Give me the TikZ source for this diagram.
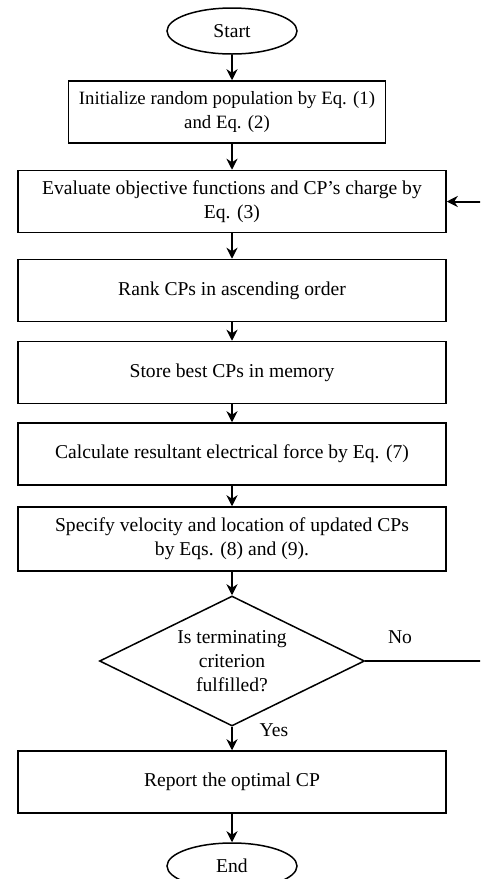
\documentclass[tikz,border=0pt]{standalone}
\usepackage{fontspec}
\setmainfont{Liberation Serif}
\usetikzlibrary{shapes.geometric,arrows.meta}

\tikzset{
  proc/.style={draw, line width=1.5pt, minimum width=428pt, minimum height=62pt,
    align=center, inner sep=0pt},
  term/.style={draw, ellipse, line width=1.5pt, minimum width=130pt,
    minimum height=46pt, inner sep=0pt},
  decide/.style={draw, diamond, aspect=2, line width=1.5pt, minimum width=265pt,
    minimum height=130pt, align=center, inner sep=-4pt},
  flow/.style={line width=2pt, -{Stealth[length=11pt,width=11pt,inset=3.5pt]}},
}

\begin{document}
\begin{tikzpicture}[x=1pt,y=-1pt,font=\fontsize{19.6}{24}\selectfont]
      \path[use as bounding box,clip] (0,0) rectangle (480,879);
      % steps of the search, top to bottom
      \node[term] (start) at (232,31) {Start};
      \node[proc, minimum width=317pt, font=\fontsize{18.8}{24}\selectfont] (init) at (227,112) {Initialize random population by Eq. (1)\\ and Eq. (2)};
      \node[proc] (eval) at (232,201.5) {Evaluate objective functions and CP's charge by\\ Eq. (3)};
      \node[proc] (rank) at (232,290.5) {Rank CPs in ascending order};
      \node[proc] (store) at (232,372.5) {Store best CPs in memory};
      \node[proc] (force) at (232,454) {Calculate resultant electrical force by Eq. (7)};
      \node[proc, minimum height=64pt] (move) at (232,539) {Specify velocity and location of updated CPs\\ by Eqs. (8) and (9).};
      \node[decide] (check) at (232,661) {Is terminating\\ criterion\\ fulfilled?};
      \node[proc] (report) at (232,782) {Report the optimal CP};
      \node[term] (stop) at (232,866) {End};
      \node (no) at (400,637) {No};
      \node (yes) at (274,730) {Yes};
      \coordinate (back) at (494,661);

      % connectors
      \draw[flow] (start.south) -- (start.south |- init.north);
      \draw[flow] (eval.north |- init.south) -- (eval.north);
      \draw[flow] (eval) -- (rank);
      \draw[flow] (rank) -- (store);
      \draw[flow] (store) -- (force);
      \draw[flow] (force) -- (move);
      \draw[flow] (move) -- (check);
      \draw[flow] (check.south) -- (check.south |- report.north);
      \draw[flow] (report) -- (stop);
      \draw[flow] (check.east) -- (back) |- (eval.east);
\end{tikzpicture}
\end{document}
